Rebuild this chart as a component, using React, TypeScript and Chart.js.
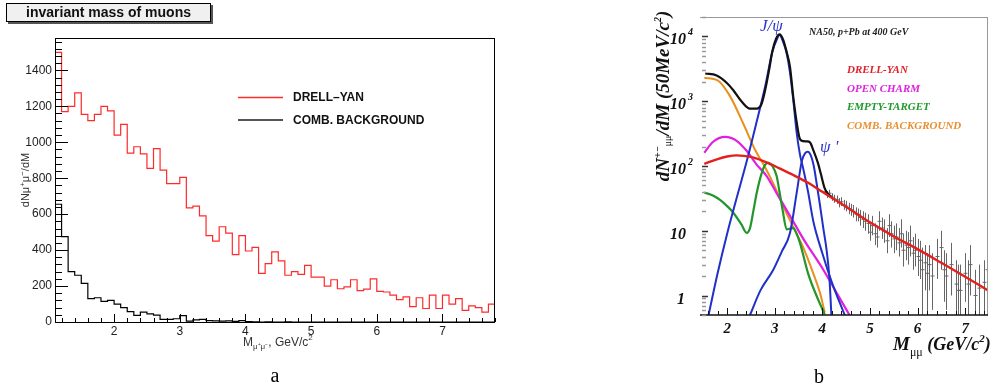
import React, { useEffect, useRef } from "react";
import { Chart, registerables } from "chart.js";
Chart.register(...registerables);

// ---------------- Panel a: invariant mass histograms ----------------
const massEdges = [1.1, 1.2, 1.3, 1.4, 1.5, 1.6, 1.7, 1.8, 1.9, 2.0, 2.1, 2.2, 2.3, 2.4, 2.5, 2.6, 2.7, 2.8, 2.9, 3.0, 3.1, 3.2, 3.3, 3.4, 3.5, 3.6, 3.7, 3.8, 3.9, 4.0, 4.1, 4.2, 4.3, 4.4, 4.5, 4.6, 4.7, 4.8, 4.9, 5.0, 5.1, 5.2, 5.3, 5.4, 5.5, 5.6, 5.7, 5.8, 5.9, 6.0, 6.1, 6.2, 6.3, 6.4, 6.5, 6.6, 6.7, 6.8, 6.9, 7.0, 7.1, 7.2, 7.3, 7.4, 7.5, 7.6, 7.7, 7.8];
const drellYanCounts = [1500, 1170, 1200, 1275, 1155, 1120, 1155, 1200, 1175, 1040, 1100, 940, 975, 935, 855, 965, 845, 770, 770, 805, 635, 645, 590, 480, 450, 530, 495, 375, 480, 395, 415, 270, 325, 390, 340, 260, 280, 265, 315, 250, 250, 200, 235, 185, 195, 235, 175, 183, 240, 170, 167, 150, 125, 140, 85, 135, 75, 150, 75, 150, 100, 130, 65, 90, 80, 55, 100];
const combBgCounts = [655, 475, 280, 260, 215, 130, 135, 115, 120, 100, 80, 58, 37, 55, 45, 38, 15, 15, 18, 35, 5, 12, 15, 8, 6, 5, 6, 3, 8, 2, 1, 0, 1, 0, 0, 1, 0, 0, 0, 0, 0, 0, 0, 0, 0, 0, 0, 0, 0, 0, 0, 0, 0, 0, 0, 0, 0, 0, 0, 0, 0, 0, 0, 0, 0, 0, 0];
const aYTicks = [0, 200, 400, 600, 800, 1000, 1200, 1400];
const aXTicks = [2, 3, 4, 5, 6, 7];

// ---------------- Panel b: NA50 fit components (log scale) ----------------
const bXTicks = [2, 3, 4, 5, 6, 7];
const bYTicks = [1, 10, 100, 1000, 10000];
const bYTickBase = ["1", "10", "10", "10", "10"];
const bYTickExp = ["", "", "2", "3", "4"];

const dyM = [1.52, 1.8, 2.0, 2.2, 2.5, 2.8, 3.1, 3.4, 3.7, 4.0, 4.3, 4.6, 5.0, 5.5, 6.0, 6.5, 7.0, 7.48];
const dyV = [108, 128, 140, 146, 138, 116, 92, 72, 55, 40, 29, 21, 13.5, 8.2, 5.2, 3.2, 1.95, 1.2];

const ocM = [1.52, 1.7, 1.96, 2.2, 2.4, 2.62, 2.83, 3.04, 3.32, 3.6, 4.02, 4.3, 4.57];
const ocV = [160, 235, 282, 245, 175, 105, 70, 38, 17, 7.5, 2.5, 1.1, 0.5];

const etM = [1.52, 1.7, 1.85, 2.0, 2.13, 2.3, 2.41, 2.48, 2.55, 2.62, 2.72, 2.8, 2.87, 2.95, 3.04, 3.1, 3.17, 3.25, 3.32, 3.39, 3.46, 3.53, 3.7, 3.91, 4.05];
const etV = [39, 35, 30, 24, 19, 12.5, 9.3, 11, 20, 38, 75, 105, 112, 100, 70, 40, 20, 10.5, 10.8, 11, 9, 6.5, 2.2, 0.87, 0.51];

const cbM = [1.52, 1.8, 2.06, 2.34, 2.6, 2.8, 3.0, 3.2, 3.4, 3.6, 3.8, 3.95, 4.05];
const cbV = [2300, 2100, 1200, 450, 170, 95, 48, 22, 11, 5.5, 2.3, 1.1, 0.55];

const jpsiM = [1.61, 1.8, 2.0, 2.2, 2.4, 2.6, 2.8, 2.95, 3.05, 3.1, 3.17, 3.25, 3.32, 3.39, 3.46, 3.53, 3.6, 3.7, 3.81, 4.0, 4.2, 4.47];
const jpsiV = [0.5, 2.2, 9, 32, 110, 420, 1700, 5800, 9200, 10500, 8500, 5500, 2800, 1040, 330, 150, 90, 40, 14, 4.5, 1.6, 0.5];

const psipM = [2.48, 2.7, 2.97, 3.15, 3.32, 3.46, 3.57, 3.64, 3.69, 3.75, 3.82, 3.88, 3.95, 4.02, 4.09, 4.15, 4.19];
const psipV = [0.5, 1.2, 2.5, 4.8, 9.2, 38, 120, 158, 166, 150, 100, 54, 25, 11, 5, 1.8, 0.5];

const totM = [1.54, 1.78, 2.0, 2.13, 2.3, 2.48, 2.62, 2.72, 2.8, 2.88, 2.95, 3.03, 3.1, 3.17, 3.25, 3.32, 3.39, 3.46, 3.53, 3.6, 3.67, 3.74, 3.81, 3.91, 3.97, 4.05, 4.12, 4.2];
const totV = [2680, 2500, 1900, 1480, 1000, 770, 770, 900, 1500, 3000, 5900, 9300, 10800, 9200, 5800, 3400, 1150, 480, 260, 242, 240, 232, 176, 110, 75, 45, 37, 33];

const dataM = [4.05, 4.1, 4.15, 4.2, 4.25, 4.3, 4.35, 4.4, 4.45, 4.5, 4.55, 4.6, 4.65, 4.7, 4.75, 4.8, 4.85, 4.9, 4.95, 5.0, 5.05, 5.1, 5.15, 5.2, 5.25, 5.3, 5.35, 5.4, 5.45, 5.5, 5.55, 5.6, 5.65, 5.7, 5.75, 5.8, 5.85, 5.9, 5.95, 6.0, 6.05, 6.1, 6.15, 6.2, 6.25, 6.3, 6.4, 6.5, 6.55, 6.6, 6.7, 6.8, 6.85, 6.9, 7.0, 7.05, 7.1, 7.2, 7.3, 7.4, 7.45];
const dataV = [40, 36, 38, 33, 31, 30, 27, 28, 25, 24, 22, 21, 20, 18, 18, 16, 15, 14, 13, 9.5, 12, 9, 8, 14, 11, 10, 7, 12, 9, 7.5, 8, 6.5, 9, 5, 6, 5.5, 7, 4.5, 5, 4, 3.5, 2.5, 3.2, 2.2, 3, 2, 4, 5.5, 2.5, 2, 3, 1.5, 1.2, 1.2, 2.2, 1.5, 3, 1, 1.3, 1.6, 2.5];
const dataLo = [36, 32, 33, 29, 27, 26, 23, 24, 21, 20, 18, 17, 16, 14, 14, 12, 11, 10, 9, 7, 8.5, 6, 5.5, 10, 7.5, 6.5, 4.5, 8, 5.5, 4.5, 5, 4, 5.5, 2.8, 3.5, 3, 4, 2.5, 2.8, 2, 1.8, 0.4, 1.2, 0.4, 1.2, 0.6, 1.8, 2.5, 0.8, 0.6, 1, 0.4, 0.3, 0.3, 0.8, 0.4, 1, 0.3, 0.3, 0.5, 0.8];
const dataHi = [45, 41, 43, 38, 36, 35, 32, 33, 30, 29, 27, 26, 25, 23, 22, 21, 20, 19, 18, 13, 17, 13, 12, 20, 16, 15, 11, 18, 14, 12, 13, 11, 15, 9, 10, 9.5, 12, 8, 9, 7.5, 7, 5.5, 6, 4.5, 6, 4.5, 7.5, 10, 5, 4.5, 6.5, 3.5, 3, 3, 4.5, 3.5, 6, 2.5, 3, 3.5, 5];

// ---------------- helpers ----------------
const SANS = '"Liberation Sans", Arial, Helvetica, sans-serif';
const SERIF = '"Liberation Serif", "Times New Roman", serif';

type Part = { t: string; font: string; dy?: number };
function drawRich(ctx: CanvasRenderingContext2D, parts: Part[], x: number, y: number, align: "left" | "center") {
  ctx.textAlign = "left";
  ctx.textBaseline = "alphabetic";
  let w = 0;
  parts.forEach((p) => {
    ctx.font = p.font;
    w += ctx.measureText(p.t).width;
  });
  let cx = align === "center" ? x - w / 2 : x;
  parts.forEach((p) => {
    ctx.font = p.font;
    ctx.fillText(p.t, cx, y + (p.dy || 0));
    cx += ctx.measureText(p.t).width;
  });
}
function seg(ctx: CanvasRenderingContext2D, x1: number, y1: number, x2: number, y2: number) {
  ctx.beginPath();
  ctx.moveTo(x1, y1);
  ctx.lineTo(x2, y2);
  ctx.stroke();
}
function histPoints(counts: number[]) {
  return massEdges.map((x, i) => ({ x, y: counts[Math.min(i, counts.length - 1)] }));
}
function curve(ms: number[], vs: number[]) {
  return ms.map((m, i) => ({ x: m, y: vs[i] }));
}

const panelAPlugin = {
  id: "panelA",
  afterDraw(chart: any) {
    const { ctx, chartArea: ca, scales } = chart;
    const x = scales.x;
    const y = scales.y;
    ctx.save();
    // frame
    ctx.strokeStyle = "#000";
    ctx.lineWidth = 1;
    ctx.strokeRect(ca.left + 0.5, ca.top + 0.5, ca.right - ca.left - 1, ca.bottom - ca.top);
    // y ticks (inward)
    for (let k = 0; k * 40 <= 1560; k++) {
      const v = k * 40;
      const py = Math.round(y.getPixelForValue(v)) + 0.5;
      const len = v % 200 === 0 ? 13 : 7;
      seg(ctx, ca.left, py, ca.left + len, py);
    }
    // x ticks (inward)
    for (let k = 12; k <= 78; k += 2) {
      const px = Math.round(x.getPixelForValue(k / 10)) + 0.5;
      const len = k % 10 === 0 ? 8 : 4;
      seg(ctx, px, ca.bottom, px, ca.bottom - len);
    }
    // tick labels
    ctx.fillStyle = "#222";
    ctx.font = `12px ${SANS}`;
    ctx.textAlign = "right";
    ctx.textBaseline = "middle";
    aYTicks.forEach((v) => ctx.fillText(String(v), ca.left - 3, y.getPixelForValue(v)));
    ctx.textAlign = "center";
    ctx.textBaseline = "top";
    aXTicks.forEach((v) => ctx.fillText(String(v), x.getPixelForValue(v), ca.bottom + 4));
    // axis titles
    ctx.fillStyle = "#333";
    drawRich(ctx, [
      { t: "M", font: `12px ${SANS}` },
      { t: "μ⁺μ⁻", font: `8px ${SANS}`, dy: 3 },
      { t: ", GeV/c", font: `12px ${SANS}` },
      { t: "2", font: `8px ${SANS}`, dy: -6 },
    ], 243, 346, "left");
    ctx.save();
    ctx.translate(29, 180);
    ctx.rotate(-Math.PI / 2);
    drawRich(ctx, [
      { t: "dNμ", font: `11px ${SANS}` },
      { t: "+", font: `8px ${SANS}`, dy: -4 },
      { t: "μ", font: `11px ${SANS}` },
      { t: "−", font: `8px ${SANS}`, dy: -4 },
      { t: "/dM", font: `11px ${SANS}` },
    ], 0, 0, "center");
    ctx.restore();
    // legend
    ctx.lineWidth = 1.5;
    ctx.strokeStyle = "#ff2a2a";
    seg(ctx, 238, 97.5, 283, 97.5);
    ctx.lineWidth = 2;
    ctx.strokeStyle = "#555";
    seg(ctx, 238, 120, 283, 120);
    ctx.fillStyle = "#111";
    ctx.font = `bold 12px ${SANS}`;
    ctx.textAlign = "left";
    ctx.textBaseline = "middle";
    ctx.fillText("DRELL–YAN", 293, 98);
    ctx.fillText("COMB. BACKGROUND", 293, 121);
    // title box
    ctx.fillStyle = "#555";
    ctx.fillRect(8, 5, 205, 19);
    ctx.fillStyle = "#f0f0f0";
    ctx.fillRect(6, 3, 205, 19);
    ctx.lineWidth = 1;
    ctx.strokeStyle = "#000";
    ctx.strokeRect(6.5, 3.5, 204, 18);
    ctx.fillStyle = "#111";
    ctx.font = `bold 14px ${SANS}`;
    ctx.textAlign = "center";
    ctx.fillText("invariant mass of muons", 108.5, 13.5);
    // panel letter
    ctx.fillStyle = "#000";
    ctx.font = `20px ${SERIF}`;
    ctx.fillText("a", 275, 377);
    ctx.restore();
  },
};

const panelBPlugin = {
  id: "panelB",
  beforeDatasetsDraw(chart: any) {
    const { ctx, chartArea: ca, scales } = chart;
    const x = scales.x;
    const y = scales.y;
    ctx.save();
    ctx.beginPath();
    ctx.rect(ca.left, ca.top, ca.right - ca.left, ca.bottom - ca.top);
    ctx.clip();
    ctx.strokeStyle = "#666";
    ctx.lineWidth = 1;
    dataM.forEach((m, i) => {
      const px = Math.round(x.getPixelForValue(m)) + 0.5;
      seg(ctx, px, y.getPixelForValue(dataLo[i]), px, y.getPixelForValue(dataHi[i]));
      const py = y.getPixelForValue(dataV[i]);
      seg(ctx, px - 2, py, px + 2, py);
    });
    ctx.restore();
  },
  afterDraw(chart: any) {
    const { ctx, chartArea: ca, scales } = chart;
    const x = scales.x;
    const y = scales.y;
    ctx.save();
    // frame lines
    ctx.strokeStyle = "#999";
    ctx.lineWidth = 1;
    seg(ctx, ca.left, ca.top + 0.5, ca.right, ca.top + 0.5);
    seg(ctx, ca.right - 0.5, ca.top, ca.right - 0.5, ca.bottom);
    ctx.strokeStyle = "#111";
    ctx.lineWidth = 1.5;
    seg(ctx, ca.left, ca.bottom, ca.right, ca.bottom);
    // y ticks (log)
    for (let d = -1; d <= 4; d++) {
      for (let m = 1; m <= 9; m++) {
        const v = m * Math.pow(10, d);
        if (v < 0.5 || v > 20000) continue;
        const py = Math.round(y.getPixelForValue(v)) + 0.5;
        ctx.strokeStyle = m === 1 ? "#333" : "#999";
        ctx.lineWidth = 1.5;
        seg(ctx, ca.left + 2, py, ca.left + (m === 1 ? 8 : 6), py);
      }
    }
    // x ticks
    ctx.strokeStyle = "#111";
    ctx.lineWidth = 1;
    for (let k = 16; k <= 74; k += 2) {
      const px = Math.round(x.getPixelForValue(k / 10)) + 0.5;
      seg(ctx, px, ca.bottom, px, ca.bottom - (k % 10 === 0 ? 7 : 4));
    }
    // tick labels
    ctx.fillStyle = "#111";
    ctx.textBaseline = "alphabetic";
    bYTicks.forEach((v, i) => {
      const py = y.getPixelForValue(v) + 8;
      ctx.font = `bold italic 16px ${SERIF}`;
      ctx.textAlign = "left";
      const base = bYTickBase[i];
      const bx = base === "1" ? 677 - 580 : 670 - 580;
      ctx.fillText(base, bx, py);
      if (bYTickExp[i]) {
        const w = ctx.measureText(base).width;
        ctx.font = `bold italic 10px ${SERIF}`;
        ctx.fillText(bYTickExp[i], bx + w + 2, py - 9);
      }
    });
    ctx.font = `bold italic 15px ${SERIF}`;
    ctx.textAlign = "center";
    ctx.textBaseline = "middle";
    bXTicks.forEach((v) => ctx.fillText(String(v), x.getPixelForValue(v), ca.bottom + 14));
    // x title
    drawRich(ctx, [
      { t: "M", font: `bold italic 19px ${SERIF}` },
      { t: "μμ", font: `12px ${SERIF}`, dy: 6 },
      { t: " (GeV/c", font: `bold italic 18px ${SERIF}` },
      { t: "2", font: `bold italic 11px ${SERIF}`, dy: -8 },
      { t: ")", font: `bold italic 18px ${SERIF}` },
    ], 893 - 580, 350, "left");
    // y title
    ctx.save();
    ctx.translate(669 - 580, 96);
    ctx.rotate(-Math.PI / 2);
    drawRich(ctx, [
      { t: "dN", font: `bold italic 19px ${SERIF}` },
      { t: "+−", font: `bold italic 10px ${SERIF}`, dy: -8 },
      { t: "μμ", font: `10px ${SERIF}`, dy: 2 },
      { t: "/dM (50MeV/c", font: `bold italic 19px ${SERIF}` },
      { t: "2", font: `bold italic 10px ${SERIF}`, dy: -8 },
      { t: ")", font: `bold italic 19px ${SERIF}` },
    ], 0, 0, "center");
    ctx.restore();
    // annotations
    ctx.textAlign = "left";
    ctx.textBaseline = "middle";
    ctx.fillStyle = "#2a36c8";
    ctx.font = `italic 17px ${SERIF}`;
    ctx.fillText("J/ψ", 760 - 580, 27);
    ctx.fillText("ψ '", 820 - 580, 148);
    ctx.fillStyle = "#222";
    ctx.font = `bold italic 10px ${SERIF}`;
    ctx.fillText("NA50, p+Pb at 400 GeV", 809 - 580, 32);
    const leg: [string, string][] = [
      ["DRELL-YAN", "#e0202a"],
      ["OPEN CHARM", "#e020e0"],
      ["EMPTY-TARGET", "#1f9a2a"],
      ["COMB. BACKGROUND", "#e89030"],
    ];
    ctx.font = `bold italic 11px ${SERIF}`;
    leg.forEach(([t, c], i) => {
      ctx.fillStyle = c;
      ctx.fillText(t, 847 - 580, 70 + i * 18.8);
    });
    // panel letter
    ctx.fillStyle = "#000";
    ctx.font = `20px ${SERIF}`;
    ctx.textAlign = "center";
    ctx.fillText("b", 819 - 580, 378);
    ctx.restore();
  },
};

function lineDs(points: { x: number; y: number }[], color: string, width = 2) {
  return {
    data: points,
    borderColor: color,
    borderWidth: width,
    pointRadius: 0,
    fill: false,
    cubicInterpolationMode: "monotone" as const,
  };
}

export default function App() {
  const refA = useRef<HTMLCanvasElement>(null);
  const refB = useRef<HTMLCanvasElement>(null);

  useEffect(() => {
    const chartA = new Chart(refA.current as HTMLCanvasElement, {
      type: "line",
      data: {
        datasets: [
          { data: histPoints(combBgCounts), borderColor: "#000", borderWidth: 1.2, stepped: "before", pointRadius: 0, fill: false },
          { data: histPoints(drellYanCounts), borderColor: "#ff2a2a", borderWidth: 1.2, stepped: "before", pointRadius: 0, fill: false },
        ] as any,
      },
      options: {
        animation: false,
        responsive: false,
        devicePixelRatio: 1,
        layout: { padding: { left: 55, right: 5, top: 38, bottom: 68 } },
        plugins: { legend: { display: false }, tooltip: { enabled: false } },
        scales: {
          x: { type: "linear", min: 1.1, max: 7.8, display: false },
          y: { type: "linear", min: 0, max: 1580, display: false },
        },
      },
      plugins: [panelAPlugin],
    });

    const chartB = new Chart(refB.current as HTMLCanvasElement, {
      type: "line",
      data: {
        datasets: [
          lineDs(curve(dyM, dyV), "#e3201e", 2.4),
          lineDs(curve(totM, totV), "#111111", 2.2),
          lineDs(curve(psipM, psipV), "#2030c8", 2),
          lineDs(curve(jpsiM, jpsiV), "#2030c8", 2),
          lineDs(curve(etM, etV), "#22962a", 2.2),
          lineDs(curve(ocM, ocV), "#e020e0", 2.2),
          lineDs(curve(cbM, cbV), "#e8901e", 2),
        ] as any,
      },
      options: {
        animation: false,
        responsive: false,
        devicePixelRatio: 1,
        layout: { padding: { left: 120, right: 6, top: 17, bottom: 75 } },
        plugins: { legend: { display: false }, tooltip: { enabled: false } },
        scales: {
          x: { type: "linear", min: 1.43, max: 7.48, display: false },
          y: { type: "logarithmic", min: 0.5, max: 20000, display: false },
        },
      },
      plugins: [panelBPlugin],
    });

    return () => {
      chartA.destroy();
      chartB.destroy();
    };
  }, []);

  return (
    <div style={{ position: "fixed", left: 0, top: 0, width: 994, height: 390, background: "#fff", overflow: "hidden" }}>
      <canvas ref={refA} width={500} height={390} style={{ position: "absolute", left: 0, top: 0, width: 500, height: 390 }} />
      <canvas ref={refB} width={414} height={390} style={{ position: "absolute", left: 580, top: 0, width: 414, height: 390 }} />
    </div>
  );
}
